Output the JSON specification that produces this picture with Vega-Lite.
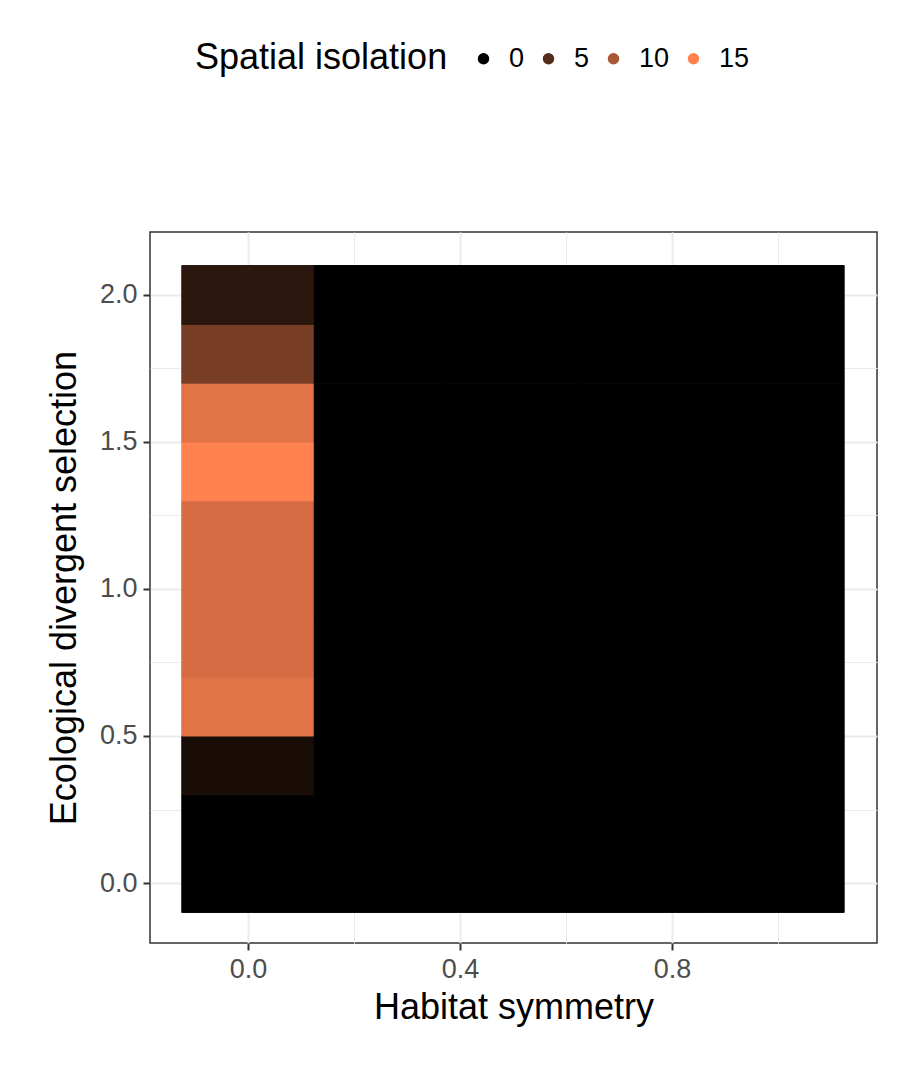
{
  "$schema": "https://vega.github.io/schema/vega-lite/v6.json",
  "width": 727,
  "height": 711,
  "autosize": "none",
  "padding": {"left": 150, "top": 232, "right": 23, "bottom": 137},
  "background": "white",
  "config": {
    "font": "Liberation Sans",
    "view": {"stroke": "#333333", "strokeWidth": 1.5},
    "axis": {"labelFontSize": 27, "labelColor": "#4d4d4d", "titleFontSize": 36, "titleFontWeight": "normal", "titleColor": "black", "gridColor": "#ebebeb", "gridWidth": 2, "domain": false, "tickColor": "#333333", "tickSize": 7, "tickWidth": 2}
  },
  "data": {"values": [
    {"h": 0, "e": 0.0, "s": 0}, {"h": 0, "e": 0.2, "s": 0}, {"h": 0, "e": 0.4, "s": 1.5},
    {"h": 0, "e": 0.6, "s": 13.3}, {"h": 0, "e": 0.8, "s": 12.5}, {"h": 0, "e": 1.0, "s": 12.5},
    {"h": 0, "e": 1.2, "s": 12.5}, {"h": 0, "e": 1.4, "s": 15}, {"h": 0, "e": 1.6, "s": 13.3},
    {"h": 0, "e": 1.8, "s": 7}, {"h": 0, "e": 2.0, "s": 2.6},
    {"h": 0.25, "e": 0.0, "s": 0}, {"h": 0.25, "e": 0.2, "s": 0}, {"h": 0.25, "e": 0.4, "s": 0}, {"h": 0.25, "e": 0.6, "s": 0}, {"h": 0.25, "e": 0.8, "s": 0}, {"h": 0.25, "e": 1.0, "s": 0}, {"h": 0.25, "e": 1.2, "s": 0}, {"h": 0.25, "e": 1.4, "s": 0}, {"h": 0.25, "e": 1.6, "s": 0}, {"h": 0.25, "e": 1.8, "s": 0}, {"h": 0.25, "e": 2.0, "s": 0},
    {"h": 0.5, "e": 0.0, "s": 0}, {"h": 0.5, "e": 0.2, "s": 0}, {"h": 0.5, "e": 0.4, "s": 0}, {"h": 0.5, "e": 0.6, "s": 0}, {"h": 0.5, "e": 0.8, "s": 0}, {"h": 0.5, "e": 1.0, "s": 0}, {"h": 0.5, "e": 1.2, "s": 0}, {"h": 0.5, "e": 1.4, "s": 0}, {"h": 0.5, "e": 1.6, "s": 0}, {"h": 0.5, "e": 1.8, "s": 0}, {"h": 0.5, "e": 2.0, "s": 0},
    {"h": 0.75, "e": 0.0, "s": 0}, {"h": 0.75, "e": 0.2, "s": 0}, {"h": 0.75, "e": 0.4, "s": 0}, {"h": 0.75, "e": 0.6, "s": 0}, {"h": 0.75, "e": 0.8, "s": 0}, {"h": 0.75, "e": 1.0, "s": 0}, {"h": 0.75, "e": 1.2, "s": 0}, {"h": 0.75, "e": 1.4, "s": 0}, {"h": 0.75, "e": 1.6, "s": 0}, {"h": 0.75, "e": 1.8, "s": 0}, {"h": 0.75, "e": 2.0, "s": 0},
    {"h": 1.0, "e": 0.0, "s": 0}, {"h": 1.0, "e": 0.2, "s": 0}, {"h": 1.0, "e": 0.4, "s": 0}, {"h": 1.0, "e": 0.6, "s": 0}, {"h": 1.0, "e": 0.8, "s": 0}, {"h": 1.0, "e": 1.0, "s": 0}, {"h": 1.0, "e": 1.2, "s": 0}, {"h": 1.0, "e": 1.4, "s": 0}, {"h": 1.0, "e": 1.6, "s": 0}, {"h": 1.0, "e": 1.8, "s": 0}, {"h": 1.0, "e": 2.0, "s": 0}
  ]},
  "transform": [
    {"calculate": "datum.h - 0.125", "as": "h0"},
    {"calculate": "datum.h + 0.125", "as": "h1"},
    {"calculate": "datum.e - 0.1", "as": "e0"},
    {"calculate": "datum.e + 0.1", "as": "e1"}
  ],
  "mark": {"type": "rect", "strokeWidth": 1},
  "encoding": {
    "x": {"field": "h0", "type": "quantitative", "title": "Habitat symmetry",
      "scale": {"domain": [-0.185, 1.187], "nice": false, "zero": false},
      "axis": {"values": [0, 0.2, 0.4, 0.6, 0.8, 1.0], "labelExpr": "abs(datum.value/0.4 - round(datum.value/0.4)) < 0.01 ? format(datum.value, '.1f') : ''",
        "tickOpacity": {"condition": {"test": "abs(datum.value/0.4 - round(datum.value/0.4)) < 0.01", "value": 1}, "value": 0},
        "gridWidth": {"condition": {"test": "abs(datum.value/0.4 - round(datum.value/0.4)) < 0.01", "value": 2}, "value": 1},
        "labelPadding": 6, "titlePadding": 8}},
    "x2": {"field": "h1"},
    "y": {"field": "e0", "type": "quantitative", "title": "Ecological divergent selection",
      "scale": {"domain": [-0.204, 2.214], "nice": false, "zero": false},
      "axis": {"values": [0, 0.25, 0.5, 0.75, 1.0, 1.25, 1.5, 1.75, 2.0], "labelExpr": "abs(datum.value/0.5 - round(datum.value/0.5)) < 0.01 ? format(datum.value, '.1f') : ''",
        "tickOpacity": {"condition": {"test": "abs(datum.value/0.5 - round(datum.value/0.5)) < 0.01", "value": 1}, "value": 0},
        "gridWidth": {"condition": {"test": "abs(datum.value/0.5 - round(datum.value/0.5)) < 0.01", "value": 2}, "value": 1},
        "labelPadding": 6, "titlePadding": 16}},
    "y2": {"field": "e1"},
    "stroke": {"field": "s", "type": "quantitative", "legend": null,
      "scale": {"domain": [0, 15], "range": ["#000000", "#ff8250"], "interpolate": "rgb"}},
    "color": {"field": "s", "type": "quantitative", "title": "Spatial isolation",
      "scale": {"domain": [0, 15], "range": ["#000000", "#ff8250"], "interpolate": "rgb"},
      "legend": {"orient": "none", "direction": "horizontal", "legendX": 45, "legendY": -187,
        "titleOrient": "left", "titleFontSize": 36, "titleFontWeight": "normal", "titleColor": "black", "titlePadding": 22, "titleBaseline": "middle", "titleLimit": 600,
        "gradientLength": 295, "gradientThickness": 58, "gradientStrokeWidth": 0,
        "values": [0, 5, 10, 15], "labelFontSize": 27, "labelColor": "black", "labelOffset": 12, "tickCount": 4}}
  }
}
